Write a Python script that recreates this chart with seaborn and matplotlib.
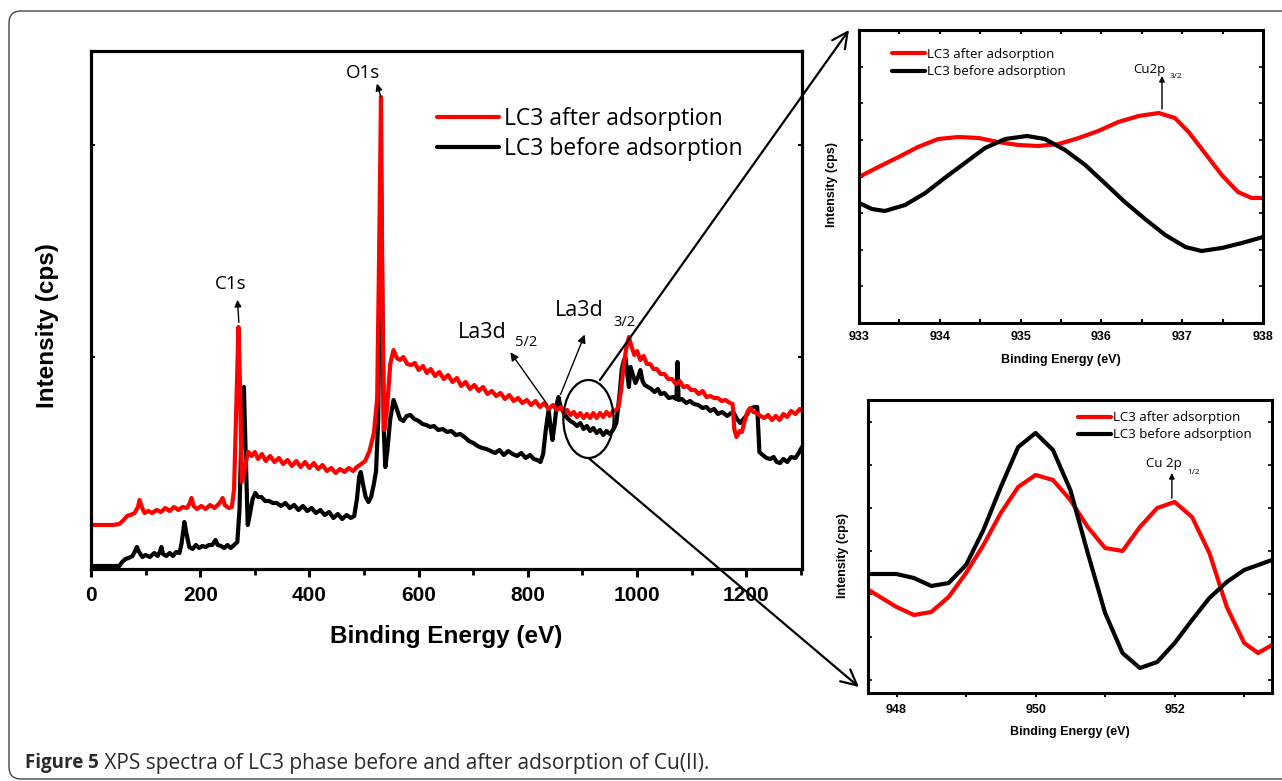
import numpy as np
import pandas as pd
import matplotlib
matplotlib.use('Agg')
import matplotlib.pyplot as plt
import seaborn as sns
from matplotlib.patches import Ellipse, FancyBboxPatch
from matplotlib.ticker import MultipleLocator, FixedLocator, NullFormatter
from matplotlib.transforms import IdentityTransform

# ---------------- data ----------------
# survey spectrum, after adsorption (red)
after_energy = [0, 20, 40, 52, 60, 66, 72, 80, 86, 89, 93, 98, 105, 112, 120, 128, 136, 144, 152, 160,
                168, 176, 181, 184, 188, 194, 202, 210, 218, 226, 234, 238, 241, 245, 252, 258, 262, 266, 270, 273,
                276, 280, 284, 288, 294, 300, 306, 313, 320, 328, 336, 344, 352, 360, 368, 376, 384, 392, 400, 408,
                416, 424, 432, 440, 448, 456, 464, 472, 480, 487, 495, 502, 510, 518, 524, 528, 531, 534, 537, 542,
                548, 554, 560, 566, 572, 579, 586, 593, 600, 608, 615, 622, 630, 638, 646, 654, 662, 670, 678, 686,
                694, 702, 710, 718, 726, 734, 742, 750, 758, 766, 774, 782, 790, 798, 806, 814, 822, 830, 838, 846,
                853, 860, 866, 872, 878, 884, 890, 896, 902, 908, 914, 920, 926, 932, 938, 944, 950, 956, 962, 966,
                971, 975, 980, 985, 990, 995, 1000, 1006, 1012, 1018, 1024, 1030, 1036, 1043, 1050, 1057, 1064, 1071, 1078, 1085,
                1092, 1099, 1106, 1113, 1120, 1127, 1134, 1141, 1148, 1155, 1162, 1170, 1175, 1178, 1182, 1188, 1192, 1197, 1202, 1207,
                1213, 1219, 1226, 1233, 1240, 1247, 1254, 1261, 1268, 1275, 1282, 1290, 1298, 1302]
after_intensity = [44, 44, 44, 45, 49, 53, 54, 56, 62, 69, 62, 56, 58, 56, 59, 57, 61, 58, 62, 59,
                   62, 61, 66, 71, 63, 60, 63, 60, 64, 61, 65, 68, 71, 64, 61, 62, 80, 160, 242, 180,
                   87, 95, 108, 117, 113, 117, 110, 115, 108, 113, 107, 111, 105, 109, 103, 108, 102, 107, 101, 106,
                   100, 104, 98, 101, 96, 100, 97, 101, 98, 102, 105, 108, 118, 136, 170, 330, 472, 250, 139, 160,
                   205, 219, 211, 209, 212, 205, 204, 206, 199, 203, 196, 200, 193, 197, 190, 194, 187, 191, 183, 187,
                   180, 184, 178, 182, 175, 178, 173, 176, 170, 174, 168, 171, 166, 169, 164, 168, 162, 166, 160, 164,
                   159, 162, 156, 159, 154, 157, 152, 156, 151, 155, 151, 156, 151, 156, 152, 157, 153, 158, 159, 162,
                   180, 202, 220, 232, 222, 214, 218, 209, 213, 205, 205, 200, 200, 195, 195, 190, 190, 185, 188, 182,
                   183, 179, 179, 175, 178, 172, 173, 171, 171, 168, 169, 166, 165, 140, 132, 138, 137, 148, 157, 161,
                   157, 156, 153, 151, 154, 149, 153, 149, 155, 152, 158, 155, 160, 158]

# survey spectrum, before adsorption (black)
before_energy = [0, 20, 40, 52, 57, 63, 69, 76, 80, 84, 88, 94, 100, 108, 116, 122, 126, 129, 132, 138,
                 144, 150, 156, 162, 166, 171, 175, 180, 186, 192, 198, 204, 210, 216, 222, 228, 232, 238, 244, 250,
                 256, 262, 268, 272, 276, 280, 283, 287, 291, 296, 301, 306, 312, 319, 326, 333, 340, 348, 356, 364,
                 372, 380, 388, 396, 404, 412, 420, 428, 436, 444, 452, 460, 468, 476, 482, 487, 491, 494, 498, 503,
                 508, 513, 518, 522, 526, 529, 531, 533, 536, 539, 543, 548, 554, 560, 566, 572, 578, 585, 592, 600,
                 607, 614, 621, 628, 636, 644, 652, 660, 668, 676, 684, 692, 700, 708, 716, 724, 732, 740, 748, 756,
                 764, 772, 780, 788, 796, 804, 811, 817, 823, 828, 833, 838, 842, 845, 849, 853, 856, 860, 866, 872,
                 878, 884, 890, 896, 902, 908, 914, 920, 926, 932, 938, 944, 950, 956, 962, 968, 972, 976, 979, 982,
                 985, 988, 992, 997, 1002, 1006, 1010, 1014, 1020, 1026, 1032, 1038, 1043, 1050, 1058, 1066, 1072, 1074, 1076, 1082,
                 1090, 1097, 1104, 1112, 1120, 1127, 1134, 1141, 1148, 1156, 1165, 1172, 1177, 1183, 1189, 1195, 1201, 1207, 1214, 1220,
                 1222, 1224, 1230, 1237, 1244, 1250, 1256, 1262, 1268, 1275, 1282, 1290, 1296, 1302]
before_intensity = [3, 3, 3, 3, 7, 10, 11, 13, 17, 22, 17, 12, 14, 12, 16, 13, 17, 22, 15, 13,
                    16, 13, 17, 16, 26, 47, 35, 22, 20, 24, 21, 23, 22, 24, 24, 29, 24, 23, 21, 24,
                    21, 24, 27, 60, 150, 182, 120, 44, 55, 70, 76, 72, 72, 68, 68, 66, 66, 63, 66, 61,
                    64, 59, 63, 58, 61, 56, 59, 54, 57, 51, 55, 50, 54, 51, 53, 70, 92, 97, 85, 72,
                    67, 72, 85, 98, 150, 320, 399, 300, 140, 102, 120, 150, 169, 160, 150, 148, 153, 154, 150, 148,
                    145, 144, 142, 143, 139, 140, 137, 138, 134, 135, 132, 128, 126, 123, 121, 120, 118, 116, 119, 114,
                    118, 115, 113, 116, 111, 114, 110, 109, 107, 115, 140, 159, 140, 129, 145, 165, 172, 162, 156, 151,
                    148, 146, 143, 146, 140, 143, 138, 141, 136, 139, 134, 138, 135, 139, 146, 175, 200, 209, 211, 195,
                    182, 202, 195, 186, 192, 199, 188, 184, 182, 180, 177, 180, 175, 176, 171, 172, 170, 207, 169, 170,
                    166, 168, 165, 164, 161, 162, 158, 160, 155, 157, 153, 156, 156, 150, 146, 150, 154, 160, 162, 162,
                    140, 117, 114, 111, 110, 112, 107, 106, 110, 107, 112, 111, 116, 122]

# Cu 2p3/2 region (top inset)
cu32_after_energy = [933.0, 933.24, 933.49, 933.73, 933.98, 934.23, 934.48, 934.72, 934.97, 935.22, 935.47,
                     935.72, 935.96, 936.21, 936.46, 936.71, 936.91, 937.08, 937.28, 937.49, 937.69, 937.86, 938.0]
cu32_after = [146, 156, 166, 176, 184, 186, 185, 181, 178, 177, 179,
              185, 192, 201, 207, 210, 205, 191, 170, 148, 131, 125, 125]
cu32_before_energy = [933.0, 933.16, 933.32, 933.57, 933.82, 934.06, 934.31, 934.56, 934.81, 935.08, 935.30,
                      935.55, 935.80, 936.04, 936.29, 936.54, 936.79, 937.04, 937.24, 937.49, 937.74, 938.0]
cu32_before = [120, 114, 112, 118, 130, 145, 160, 175, 184, 187, 184,
               173, 158, 140, 121, 104, 88, 76, 72, 75, 80, 86]

# Cu 2p1/2 region (bottom inset)
cu12_energy = [947.6, 948.0, 948.25, 948.5, 948.75, 949.0, 949.25, 949.5, 949.75, 950.0, 950.25, 950.5,
               950.75, 951.0, 951.25, 951.5, 951.75, 952.0, 952.25, 952.5, 952.75, 953.0, 953.2, 953.4]
cu12_after = [103, 86, 78, 81, 96, 120, 148, 180, 206, 218, 213, 193,
              166, 145, 142, 166, 185, 191, 176, 140, 86, 50, 40, 48]
cu12_before = [119, 119, 115, 107, 110, 128, 163, 206, 246, 260, 243, 203,
               140, 80, 40, 25, 31, 50, 73, 95, 111, 123, 128, 133]

main_ticks = [0, 200, 400, 600, 800, 1000, 1200]
inset1_ticks = [933, 934, 935, 936, 937, 938]
inset2_ticks = [948, 950, 952]
label_after = "LC3 after adsorption"
label_before = "LC3 before adsorption"
caption_bold = "Figure 5"
caption_rest = " XPS spectra of LC3 phase before and after adsorption of Cu(II)."

RED = "#ff0000"
BLACK = "#000000"

# ---------------- style ----------------
sns.set_style("ticks")
plt.rcParams['font.family'] = ['Liberation Sans', 'DejaVu Sans']
for k in ['text.color', 'axes.labelcolor', 'xtick.color', 'ytick.color', 'axes.edgecolor']:
    plt.rcParams[k] = 'black'
ANN = ['Open Sans', 'DejaVu Sans']

W, H = 1282, 781
fig = plt.figure(figsize=(W / 100, H / 100), dpi=100)


def px_axes(l, t, r, b):
    return fig.add_axes([l / W, 1 - b / H, (r - l) / W, (b - t) / H])


def style_spines(ax, lw):
    for s in ax.spines.values():
        s.set_linewidth(lw)
        s.set_color('black')
        s.set_visible(True)


# ---------------- main survey ----------------
ax = px_axes(91, 51, 802, 569)
df_a = pd.DataFrame({"E": after_energy, "I": after_intensity})
df_b = pd.DataFrame({"E": before_energy, "I": before_intensity})
sns.lineplot(data=df_b, x="E", y="I", ax=ax, color=BLACK, lw=3.0, estimator=None, label=label_before)
sns.lineplot(data=df_a, x="E", y="I", ax=ax, color=RED, lw=3.0, estimator=None, label=label_after)
ax.set_xlim(0, 1302)
ax.set_ylim(0, 518)
style_spines(ax, 2.3)
ax.xaxis.set_major_locator(FixedLocator(main_ticks))
ax.xaxis.set_minor_locator(MultipleLocator(100))
ax.tick_params(axis='x', which='major', direction='out', length=6, width=2.2,
               labelsize=15, pad=6)
ax.tick_params(axis='x', which='minor', direction='out', length=4, width=2.0)
for t in ax.get_xticklabels():
    t.set_fontweight('bold')
ax.yaxis.set_major_locator(FixedLocator([212, 424]))
ax.yaxis.set_major_formatter(NullFormatter())
ax.tick_params(axis='y', direction='in', length=3, width=1.5, right=True)
ax.set_xlabel("Binding Energy (eV)", fontsize=17.5, fontweight='bold', labelpad=15)
ax.set_ylabel("Intensity (cps)", fontsize=17.5, fontweight='bold')
ax.yaxis.set_label_coords(-0.045, 0.47)

h, l = ax.get_legend_handles_labels()
leg = ax.legend([h[1], h[0]], [l[1], l[0]], loc='upper left', bbox_to_anchor=(0.4866, 0.891),
                frameon=False, prop={'family': ANN, 'size': 16.5}, handlelength=2.7,
                handletextpad=0.22, labelspacing=0.25, borderpad=0, borderaxespad=0)

# peak labels
ax.text(499, 496, "O1s", fontsize=13.5, family=ANN, ha='center', va='center')
ax.annotate("", xy=(522, 488), xytext=(532, 470),
            arrowprops=dict(arrowstyle='-|>', color='black', lw=1.0, mutation_scale=10))
ax.text(255, 285, "C1s", fontsize=13.5, family=ANN, ha='center', va='center')
ax.annotate("", xy=(268, 272), xytext=(271, 244),
            arrowprops=dict(arrowstyle='-|>', color='black', lw=1.0, mutation_scale=10))
ax.text(671, 237, "La3d", fontsize=15.5, family=ANN, ha='left', va='center')
ax.text(777, 226, "5/2", fontsize=10.5, family=ANN, ha='left', va='center')
ax.annotate("", xy=(765, 219), xytext=(839, 162),
            arrowprops=dict(arrowstyle='-|>', color='black', lw=1.0, mutation_scale=12))
ax.text(850, 259, "La3d", fontsize=15.5, family=ANN, ha='left', va='center')
ax.text(957, 247, "3/2", fontsize=10.5, family=ANN, ha='left', va='center')
ax.annotate("", xy=(906, 237), xytext=(858, 172),
            arrowprops=dict(arrowstyle='-|>', color='black', lw=1.0, mutation_scale=12))

# zoom ellipse and connectors
ax.add_patch(Ellipse((911, 150), 92, 78, fill=False, lw=1.6, ec='black', zorder=5))
ax.annotate("", xy=(849 / W, 1 - 30 / H), xycoords='figure fraction', xytext=(932, 189),
            textcoords='data', annotation_clip=False,
            arrowprops=dict(arrowstyle='->', color='black', lw=1.6, mutation_scale=28, shrinkA=0, shrinkB=0))
ax.annotate("", xy=(859 / W, 1 - 687 / H), xycoords='figure fraction', xytext=(911, 111),
            textcoords='data', annotation_clip=False,
            arrowprops=dict(arrowstyle='->', color='black', lw=1.6, mutation_scale=28, shrinkA=0, shrinkB=0))

# ---------------- inset 1 : Cu2p3/2 ----------------
a1 = px_axes(859, 30, 1263, 323)
sns.lineplot(x=cu32_after_energy, y=cu32_after, ax=a1, color=RED, lw=3.0, estimator=None, label=label_after)
sns.lineplot(x=cu32_before_energy, y=cu32_before, ax=a1, color=BLACK, lw=3.0, estimator=None, label=label_before)
a1.set_xlim(933, 938)
a1.set_ylim(0, 293)
style_spines(a1, 2.2)
a1.xaxis.set_major_locator(FixedLocator(inset1_ticks))
a1.xaxis.set_minor_locator(MultipleLocator(0.5))
a1.tick_params(axis='x', which='both', direction='in', length=3, width=1.5, top=True, labelsize=9, pad=6)
for t in a1.get_xticklabels():
    t.set_fontweight('bold')
a1.yaxis.set_major_locator(MultipleLocator(36.6))
a1.yaxis.set_major_formatter(NullFormatter())
a1.tick_params(axis='y', direction='in', length=3, width=1.2, right=True)
a1.set_xlabel("Binding Energy (eV)", fontsize=9, fontweight='bold', labelpad=8)
a1.set_ylabel("Intensity (cps)", fontsize=9, fontweight='bold')
a1.yaxis.set_label_coords(-0.052, 0.471)
a1.legend(loc='upper left', bbox_to_anchor=(0.0817, 0.94), frameon=False,
          prop={'family': ANN, 'size': 9.5}, handlelength=2.5, handletextpad=0.15,
          labelspacing=0.35, borderpad=0, borderaxespad=0)
a1.text(936.39, 253, "Cu2p", fontsize=9.5, family=ANN, ha='left', va='center')
a1.text(936.84, 246, "3/2", fontsize=6, family=ANN, ha='left', va='center')
a1.annotate("", xy=(936.75, 247), xytext=(936.75, 214),
            arrowprops=dict(arrowstyle='-|>', color='black', lw=1.0, mutation_scale=8, shrinkA=0, shrinkB=0))

# ---------------- inset 2 : Cu2p1/2 ----------------
a2 = px_axes(868, 400, 1272, 693)
sns.lineplot(x=cu12_energy, y=cu12_after, ax=a2, color=RED, lw=3.0, estimator=None, label=label_after)
sns.lineplot(x=cu12_energy, y=cu12_before, ax=a2, color=BLACK, lw=3.0, estimator=None, label=label_before)
a2.set_xlim(947.59, 953.4)
a2.set_ylim(0, 293)
style_spines(a2, 2.2)
a2.xaxis.set_major_locator(FixedLocator(inset2_ticks))
a2.xaxis.set_minor_locator(MultipleLocator(1))
a2.tick_params(axis='x', which='both', direction='out', length=3, width=1.5, labelsize=9, pad=5)
for t in a2.get_xticklabels():
    t.set_fontweight('bold')
a2.yaxis.set_major_locator(FixedLocator(list(np.arange(13, 293, 43))))
a2.yaxis.set_major_formatter(NullFormatter())
a2.tick_params(axis='y', direction='in', length=3, width=1.2, right=True)
a2.set_xlabel("Binding Energy (eV)", fontsize=9, fontweight='bold', labelpad=7)
a2.set_ylabel("Intensity (cps)", fontsize=9, fontweight='bold')
a2.yaxis.set_label_coords(-0.047, 0.468)
a2.legend(loc='upper left', bbox_to_anchor=(0.520, 0.961), frameon=False,
          prop={'family': ANN, 'size': 9.5}, handlelength=2.5, handletextpad=0.15,
          labelspacing=0.3, borderpad=0, borderaxespad=0)
a2.text(951.59, 230, "Cu 2p", fontsize=9.5, family=ANN, ha='left', va='center')
a2.text(952.18, 221, "1/2", fontsize=6, family=ANN, ha='left', va='center')
a2.annotate("", xy=(951.96, 220), xytext=(951.96, 195),
            arrowprops=dict(arrowstyle='-|>', color='black', lw=1.0, mutation_scale=8, shrinkA=0, shrinkB=0))

# ---------------- frame and caption ----------------
frame = FancyBboxPatch((9, 2), 1300, 768, boxstyle="round,pad=0,rounding_size=12",
                       transform=IdentityTransform(), fill=False, ec='#444444', lw=1.0, zorder=0)
fig.patches.append(frame)

cap1 = fig.text(25 / W, 1 - 763 / H, caption_bold, fontsize=13.5, fontweight='bold', family=ANN,
                color='#2a2a2a', va='center', ha='left')
fig.canvas.draw()
bb = cap1.get_window_extent()
fig.text(bb.x1 / W, 1 - 763 / H, caption_rest, fontsize=15, family=ANN, color='#2a2a2a',
         va='center', ha='left')

fig.savefig("out.png", dpi=100)
